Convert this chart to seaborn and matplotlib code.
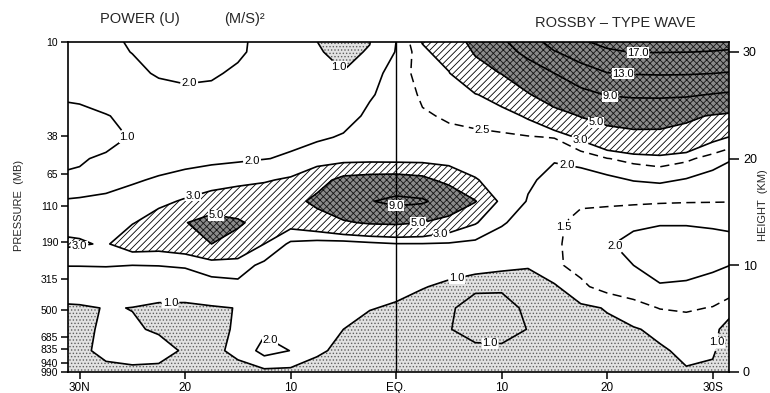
import numpy as np
import matplotlib
matplotlib.use("Agg")
import matplotlib.pyplot as plt
import seaborn as sns

# ---------------- data ----------------
# grid columns: latitude in degrees (north positive)
lat_deg = [32.5, 30, 27.5, 25, 22.5, 20, 17.5, 15, 12.5, 10, 7.5, 5, 2.5, 0,
           -2.5, -5, -7.5, -10, -12.5, -15, -17.5, -20, -22.5, -25, -27.5, -30, -32.5]
# grid rows: height in km
height_km = [0, 2, 4, 6, 8, 10, 12, 14, 16, 18, 20, 22, 24, 26, 28, 30, 32]

# power of u, (m/s)^2, one list per height row
power_z00 = [0.8, 0.85, 0.9, 0.9, 0.9, 0.85, 0.8, 0.8, 0.75, 0.75, 0.75, 0.7, 0.7, 0.65, 0.65, 0.65, 0.7, 0.7, 0.7, 0.7, 0.7, 0.75, 0.8, 0.85, 0.97, 0.97, 0.9]
power_z02 = [0.85, 0.92, 1.1, 1.2, 1.15, 0.95, 0.85, 1.15, 2.4, 1.98, 1.1, 0.85, 0.75, 0.7, 0.7, 0.75, 0.85, 0.85, 0.8, 0.75, 0.75, 0.8, 0.85, 0.95, 1.08, 1.02, 0.85]
power_z04 = [0.85, 0.93, 1.05, 1.05, 0.95, 0.85, 0.88, 1.05, 1.8, 1.55, 1.3, 1.0, 0.85, 0.75, 0.8, 0.97, 1.25, 1.3, 0.98, 0.8, 0.85, 0.9, 0.96, 1.1, 1.3, 1.05, 0.85]
power_z06 = [0.85, 0.9, 1.03, 0.99, 0.9, 0.88, 0.92, 1.02, 1.15, 1.2, 1.2, 1.15, 1.02, 0.95, 0.85, 0.95, 1.15, 1.2, 0.9, 0.8, 0.9, 1.03, 1.3, 1.52, 1.55, 1.48, 1.0]
power_z08 = [1.5, 1.55, 1.6, 1.3, 1.3, 1.35, 1.7, 1.75, 1.55, 1.4, 1.3, 1.25, 1.2, 1.12, 1.02, 0.93, 0.93, 0.92, 0.83, 0.93, 1.4, 1.7, 1.8, 1.95, 1.92, 1.8, 1.7]
power_z10 = [2.02, 2.02, 2.03, 2.0, 2.02, 2.1, 2.35, 2.45, 1.75, 1.5, 1.35, 1.3, 1.3, 1.3, 1.25, 1.15, 1.05, 1.03, 1.03, 1.42, 1.65, 1.85, 2.0, 2.25, 2.2, 2.1, 1.95]
power_z12 = [3.3, 3.1, 2.9, 3.6, 3.5, 3.8, 5.0, 4.2, 3.0, 1.8, 1.6, 1.55, 1.75, 1.95, 1.95, 1.9, 1.75, 1.55, 1.35, 1.4, 1.75, 1.95, 2.15, 2.3, 2.3, 2.25, 2.15]
power_z14 = [2.6, 2.7, 2.8, 2.95, 3.4, 4.9, 6.0, 5.3, 4.2, 3.5, 4.0, 4.8, 5.2, 5.3, 5.0, 4.0, 3.1, 2.1, 1.6, 1.4, 1.65, 1.8, 1.9, 1.95, 1.95, 1.9, 1.85]
power_z16 = [2.05, 2.2, 2.35, 2.55, 2.8, 3.1, 3.4, 3.6, 3.7, 4.3, 5.5, 6.5, 8.8, 10.0, 9.5, 7.2, 5.1, 2.6, 1.95, 1.45, 1.42, 1.4, 1.42, 1.45, 1.47, 1.48, 1.49]
power_z18 = [1.02, 1.05, 1.4, 1.85, 2.15, 2.4, 2.6, 2.75, 2.9, 3.15, 4.2, 5.6, 5.9, 6.0, 5.6, 4.3, 3.1, 2.4, 2.1, 1.8, 1.8, 1.85, 2.03, 2.1, 1.96, 1.75, 1.6]
power_z20 = [0.95, 0.97, 1.05, 1.2, 1.4, 1.6, 1.75, 1.85, 1.97, 2.1, 2.3, 2.4, 2.45, 2.4, 2.4, 2.35, 2.3, 2.25, 2.2, 2.05, 2.15, 2.48, 2.65, 2.75, 2.6, 2.3, 1.95]
power_z22 = [0.75, 0.8, 0.88, 1.03, 1.3, 1.5, 1.6, 1.65, 1.7, 1.8, 1.92, 2.05, 2.2, 2.3, 2.35, 2.4, 2.42, 2.44, 2.46, 2.52, 3.15, 3.8, 4.3, 4.4, 4.0, 3.2, 2.85]
power_z24 = [0.85, 0.9, 0.97, 1.15, 1.4, 1.6, 1.7, 1.7, 1.6, 1.55, 1.6, 1.8, 2.1, 2.3, 2.45, 2.55, 2.62, 2.7, 3.1, 4.0, 5.1, 6.0, 6.2, 6.0, 5.5, 4.8, 4.3]
power_z26 = [1.05, 1.08, 1.3, 1.5, 1.7, 1.85, 1.85, 1.75, 1.6, 1.45, 1.35, 1.35, 1.95, 2.2, 2.575, 2.75, 2.95, 3.4, 4.8, 6.5, 7.8, 9.2, 9.5, 9.6, 9.45, 8.85, 8.3]
power_z28 = [1.4, 1.5, 1.6, 1.8, 2.09, 2.15, 2.08, 1.9, 1.6, 1.35, 1.1, 1.02, 1.6, 2.4, 2.58, 2.95, 4.2, 5.07, 7.0, 9.0, 11.5, 12.9, 13.2, 13.3, 13.25, 13.05, 12.6]
power_z30 = [1.5, 1.6, 1.8, 2.02, 2.25, 2.35, 2.3, 2.1, 1.8, 1.5, 1.05, 0.85, 1.05, 2.05, 2.8, 3.5, 5.2, 7.5, 10.0, 12.8, 14.6, 16.5, 17.15, 17.1, 17.05, 16.9, 16.7]
power_z32 = [1.7, 1.75, 1.9, 2.15, 2.4, 2.5, 2.4, 2.15, 1.8, 1.45, 0.95, 0.7, 0.9, 1.95, 3.35, 4.2, 6.3, 9.5, 13.0, 17.0, 18.5, 19.5, 19.5, 19.5, 19.4, 19.2, 18.8]

solid_levels = [1.0, 2.0, 3.0, 5.0, 9.0, 13.0, 17.0]

lat_ticks = [30, 20, 10, 0, -10, -20, -30]
lat_tick_labels = ["30N", "20", "10", "EQ.", "10", "20", "30S"]
pressure_tick_labels = ["10", "38", "65", "110", "190", "315", "500", "685", "835", "940", "990"]
pressure_tick_height = [30.93, 22.1, 18.6, 15.6, 12.2, 8.7, 5.8, 3.3, 2.15, 0.84, 0.0]
height_ticks = [0, 10, 20, 30]

# ---------------- styling ----------------
sns.set_theme(style="ticks")
plt.rcParams["font.family"] = ["Liberation Sans", "DejaVu Sans"]
plt.rcParams["hatch.linewidth"] = 0.6

lat = np.array(lat_deg, dtype=float)
z = np.array(height_km, dtype=float)
power = np.array([power_z00, power_z02, power_z04, power_z06, power_z08, power_z10,
                  power_z12, power_z14, power_z16, power_z18, power_z20, power_z22,
                  power_z24, power_z26, power_z28, power_z30, power_z32])
LAT, Z = np.meshgrid(lat, z)

fig = plt.figure(figsize=(7.7, 3.93), dpi=100)
ax = fig.add_axes([68 / 770, 21 / 393, 661 / 770, 330 / 393])


def shaded(x, y, field, levels, face, hatch, hatch_color):
    plt.rcParams["hatch.color"] = hatch_color
    plt.rcParams["patch.edgecolor"] = hatch_color
    cf = ax.contourf(x, y, field, levels=levels, colors=[face], hatches=[hatch])
    try:
        cf.set_hatchcolor(hatch_color)
    except AttributeError:
        cf.set_edgecolor(hatch_color)
        cf.set_linewidth(0)
    return cf


light_face = "#e2e2e2"
dot_color = "#606060"
# light stipple: power below 1.0 (the upper-left minimum is left blank as in the original)
light = np.ma.masked_where((LAT >= 22.5) & (Z >= 16), power)
shaded(lat, z, light, [-1.0, 1.0], light_face, ".....", dot_color)
# stippled closed 1.0 contour near 10S
cols = np.where((lat <= -5) & (lat >= -15))[0]
rows = np.where(z <= 8)[0]
shaded(lat[cols], z[rows], power[np.ix_(rows, cols)], [1.0, 2.0], light_face, ".....", dot_color)
# hatched 3.0 - 5.0
shaded(lat, z, power, [3.0, 5.0], "none", "/////", "black")
# dark stipple above 5.0
shaded(lat, z, power, [5.0, 100.0], "#8a8a8a", "xxxxx", "#151515")

label_spots = {
    1.0: [(25.2, 21.7), (6.0, 28.0), (21.4, 6.8), (-5.8, 8.6), (-8.9, 2.7), (-30.4, 2.8)],
    2.0: [(19.6, 26.9), (13.6, 19.3), (-16.2, 19.6), (-20.3, 11.4), (12.0, 3.0)],
    3.0: [(19.2, 16.4), (30.0, 11.7), (-4.2, 13.1), (-17.4, 21.7)],
    5.0: [(17.0, 15.0), (-2.1, 14.0), (-19.1, 23.8)],
    9.0: [(0.0, 15.5), (-20.3, 25.8)],
    13.0: [(-21.5, 27.6)],
    17.0: [(-22.9, 30.0)],
}
texts = []
for lvl in solid_levels:
    cs = ax.contour(lat, z, power, levels=[lvl], colors="black", linewidths=1.2)
    texts += cs.clabel(manual=label_spots[lvl], fmt="%.1f", fontsize=8,
                       inline=True, inline_spacing=1)

keep15 = (LAT <= -14) & (Z <= 16)
cs15 = ax.contour(lat, z, np.ma.array(power, mask=~keep15), levels=[1.5],
                  colors="black", linewidths=1.1, linestyles=[(0, (6, 3.5))])
texts += cs15.clabel(manual=[(-14.1, 13.8)], fmt="%.1f", fontsize=8,
                     inline=True, inline_spacing=1)
keep25 = ((LAT <= 0) & (Z >= 20)) | ((LAT <= -15) & (Z >= 18))
cs25 = ax.contour(lat, z, np.ma.array(power, mask=~keep25), levels=[2.5],
                  colors="black", linewidths=1.1, linestyles=[(0, (6, 3.5))])
texts += cs25.clabel(manual=[(-8.2, 22.9)], fmt="%.1f", fontsize=8,
                     inline=True, inline_spacing=1)
for t in texts:
    t.set_rotation(0)
    t.set_bbox(dict(facecolor="white", edgecolor="none", pad=0.3))

ax.axvline(0, color="black", lw=1.0)

ax.set_xlim(31.1, -31.55)
ax.set_ylim(0, 30.93)
ax.set_xticks(lat_ticks)
ax.set_xticklabels(lat_tick_labels)
ax.set_yticks(pressure_tick_height)
ax.set_yticklabels(pressure_tick_labels)
ax.tick_params(axis="x", direction="out", length=5, width=1.1, colors="black",
               labelsize=8.5, pad=2)
ax.tick_params(axis="y", direction="out", length=5, width=1.1, colors="black",
               labelsize=7.5, pad=2)
for sp in ax.spines.values():
    sp.set_visible(True)
    sp.set_color("black")
    sp.set_linewidth(1.2)

ax2 = ax.twinx()
ax2.set_ylim(0, 30.93)
ax2.set_yticks(height_ticks)
ax2.set_yticklabels([str(h) for h in height_ticks])
ax2.tick_params(axis="y", direction="out", length=7, width=1.1, colors="black",
                labelsize=9, pad=3)
for sp in ax2.spines.values():
    sp.set_visible(False)

fig.text(100 / 770, 1 - 19 / 393, "POWER (U)", fontsize=10.5, ha="left", va="center")
fig.text(224 / 770, 1 - 19 / 393, "(M/S)²", fontsize=10.5, ha="left", va="center")
fig.text(615 / 770, 1 - 23 / 393, "ROSSBY – TYPE WAVE", fontsize=10.5, ha="center", va="center")
fig.text(19 / 770, 1 - 205 / 393, "PRESSURE  (MB)", fontsize=8, rotation=90,
         ha="center", va="center")
fig.text(763 / 770, 1 - 205 / 393, "HEIGHT  (KM)", fontsize=8, rotation=90,
         ha="center", va="center")

fig.savefig("out.png", dpi=100, facecolor="white")
